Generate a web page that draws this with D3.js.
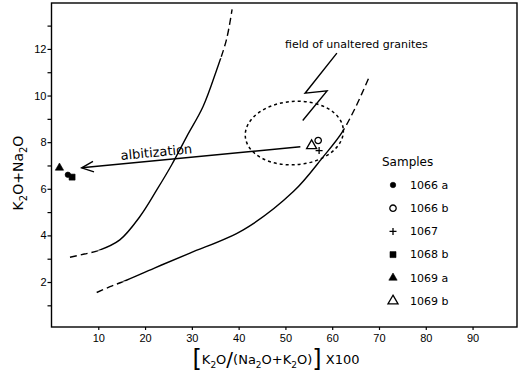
<!DOCTYPE html>
<html>
<head>
<meta charset="utf-8">
<script src="https://cdn.jsdelivr.net/npm/d3@7"></script>
<style>
  body { margin: 0; background: #fff; }
  svg { display: block; font-family: "DejaVu Sans", sans-serif; }
  .axis text { font-size: 11px; fill: #000; }
  .axis line { stroke: #000; stroke-width: 1.2; }
</style>
</head>
<body>
<svg id="chart" width="518" height="373"></svg>
<script>
'use strict';

// tick values
const xTickValues = [10, 20, 30, 40, 50, 60, 70, 80, 90];
const yTickValues = [2, 4, 6, 8, 10, 12];
const yMinorTicks = [1, 3, 5, 7, 9, 11, 13];

// samples (legend order)
const sampleNames = ["1066 a", "1066 b", "1067", "1068 b", "1069 a", "1069 b"];
const sampleX = [3.5, 57.0, 57.2, 4.4, 1.7, 55.6];
const sampleY = [6.6, 8.07, 7.64, 6.5, 6.9, 7.85];

// boundary curves: [x, y]
const leftCurve = [[3.95, 3.06], [7.0, 3.2], [10.0, 3.35], [14.6, 3.81], [18.9, 4.81],
    [22.5, 5.95], [25.7, 7.03], [28.9, 8.24], [32.4, 9.53], [35.3, 11.1], [37.4, 12.4], [38.6, 13.7]];
const leftCurveSolid = [3.35, 11.6];   // y range drawn solid, dashed outside

const rightCurve = [[9.66, 1.55], [12.5, 1.8], [15.3, 2.02], [22.0, 2.6], [29.6, 3.24],
    [41.0, 4.24], [51.7, 5.88], [58.1, 7.38], [62.0, 8.39], [65.0, 9.5], [67.9, 10.8]];
const rightCurveSolid = [2.02, 8.39];

// annotations
const boltPoints = [[61.0, 11.82], [54.2, 10.1], [58.9, 10.2], [53.7, 8.93]];
const arrowFrom = [53.2, 7.8];
const arrowTo = [6.45, 6.9];
const fieldCenter = [51.9, 8.39];
const fieldRadius = [10.5, 1.36];

const svg = d3.select("#chart");
const W = +svg.attr("width");

const xScale = d3.scaleLinear().domain([0, 99.5]).range([51.5, 517]);
const yScale = d3.scaleLinear().domain([0.07, 13.97]).range([327, 3]);

// axes
const xAxis = d3.axisBottom(xScale).tickValues(xTickValues).tickSize(3).tickPadding(4);
const yAxis = d3.axisLeft(yScale).tickValues(yTickValues).tickSize(4).tickPadding(1);
const yMinor = d3.axisLeft(yScale).tickValues(yMinorTicks).tickSize(4).tickFormat("");

svg.append("g").attr("class", "x axis")
    .attr("transform", "translate(0," + yScale.range()[0] + ")")
    .call(xAxis)
    .call(g => g.select(".domain").remove());

svg.append("g").attr("class", "y axis")
    .attr("transform", "translate(" + xScale.range()[0] + ",0)")
    .call(yAxis)
    .call(g => g.select(".domain").remove());

svg.append("g").attr("class", "y axis minor")
    .attr("transform", "translate(" + xScale.range()[0] + ",0)")
    .call(yMinor)
    .call(g => g.select(".domain").remove());

// frame
svg.append("rect")
    .attr("x", xScale.range()[0])
    .attr("y", yScale.range()[1])
    .attr("width", xScale.range()[1] - xScale.range()[0])
    .attr("height", yScale.range()[0] - yScale.range()[1])
    .attr("fill", "none")
    .attr("stroke", "#000")
    .attr("stroke-width", 1.4);

// axis titles
const yTitle = svg.append("text")
    .attr("transform", "translate(23,173) rotate(-90)")
    .attr("text-anchor", "middle")
    .style("font-size", "14px");
yTitle.append("tspan").text("K");
yTitle.append("tspan").attr("dy", 4).style("font-size", "10px").text("2");
yTitle.append("tspan").attr("dy", -4).text("O+Na");
yTitle.append("tspan").attr("dy", 4).style("font-size", "10px").text("2");
yTitle.append("tspan").attr("dy", -4).text("O");

const xTitle = svg.append("text")
    .attr("x", 276)
    .attr("y", 364)
    .attr("text-anchor", "middle")
    .style("font-size", "13px");
xTitle.append("tspan").style("font-size", "24px").attr("dy", 3).text("[");
xTitle.append("tspan").attr("dy", -3).text("K");
xTitle.append("tspan").attr("dy", 4).style("font-size", "9px").text("2");
xTitle.append("tspan").attr("dy", -4).text("O");
xTitle.append("tspan").style("font-size", "20px").attr("dy", 2).text("/");
xTitle.append("tspan").attr("dy", -2).text("(Na");
xTitle.append("tspan").attr("dy", 4).style("font-size", "9px").text("2");
xTitle.append("tspan").attr("dy", -4).text("O+K");
xTitle.append("tspan").attr("dy", 4).style("font-size", "9px").text("2");
xTitle.append("tspan").attr("dy", -4).text("O)");
xTitle.append("tspan").style("font-size", "24px").attr("dy", 3).text("]");
xTitle.append("tspan").attr("dy", -3).text(" X100");

// curves: each drawn whole, then clipped into solid middle and dashed ends
const line = d3.line()
    .curve(d3.curveCatmullRom.alpha(0.5))
    .x(d => xScale(d[0]))
    .y(d => yScale(d[1]));

const defs = svg.append("defs");

function drawCurve(id, pts, solidRange) {
    const yTop = yScale(solidRange[1]), yBot = yScale(solidRange[0]);

    defs.append("clipPath").attr("id", id + "-solid")
        .append("rect").attr("x", 0).attr("y", yTop).attr("width", W).attr("height", yBot - yTop);
    const dashClip = defs.append("clipPath").attr("id", id + "-dash");
    dashClip.append("rect").attr("x", 0).attr("y", 0).attr("width", W).attr("height", yTop);
    dashClip.append("rect").attr("x", 0).attr("y", yBot).attr("width", W).attr("height", 400);

    svg.append("path")
        .attr("d", line(pts))
        .attr("clip-path", "url(#" + id + "-solid)")
        .attr("fill", "none")
        .attr("stroke", "#000")
        .attr("stroke-width", 1.4);

    svg.append("path")
        .attr("d", line(pts))
        .attr("clip-path", "url(#" + id + "-dash)")
        .attr("fill", "none")
        .attr("stroke", "#000")
        .attr("stroke-width", 1.4)
        .attr("stroke-dasharray", "7,4");
}

drawCurve("left", leftCurve, leftCurveSolid);
drawCurve("right", rightCurve, rightCurveSolid);

// field of unaltered granites
const cx = xScale(fieldCenter[0]), cy = yScale(fieldCenter[1]);
svg.append("ellipse")
    .attr("cx", cx)
    .attr("cy", cy)
    .attr("rx", xScale(fieldCenter[0] + fieldRadius[0]) - cx)
    .attr("ry", cy - yScale(fieldCenter[1] + fieldRadius[1]))
    .attr("transform", "rotate(-4 " + cx + " " + cy + ")")
    .attr("fill", "none")
    .attr("stroke", "#000")
    .attr("stroke-width", 1.5)
    .attr("stroke-dasharray", "3,3");

svg.append("path")
    .attr("d", d3.line().x(d => xScale(d[0])).y(d => yScale(d[1]))(boltPoints))
    .attr("fill", "none")
    .attr("stroke", "#000")
    .attr("stroke-width", 1.4);

svg.append("text")
    .attr("x", 285)
    .attr("y", 48)
    .style("font-size", "11px")
    .text("field of unaltered granites");

// albitization arrow
const ax0 = xScale(arrowFrom[0]), ay0 = yScale(arrowFrom[1]);
const ax1 = xScale(arrowTo[0]), ay1 = yScale(arrowTo[1]);
const ang = Math.atan2(ay1 - ay0, ax1 - ax0);
const headLen = 13, headAng = 0.42;
svg.append("line")
    .attr("x1", ax0).attr("y1", ay0)
    .attr("x2", ax1).attr("y2", ay1)
    .attr("stroke", "#000")
    .attr("stroke-width", 1.4);
svg.append("path")
    .attr("d", "M" + (ax1 - headLen * Math.cos(ang - headAng)) + "," + (ay1 - headLen * Math.sin(ang - headAng)) +
        "L" + ax1 + "," + ay1 +
        "L" + (ax1 - headLen * Math.cos(ang + headAng)) + "," + (ay1 - headLen * Math.sin(ang + headAng)))
    .attr("fill", "none")
    .attr("stroke", "#000")
    .attr("stroke-width", 1.4);

svg.append("text")
    .attr("transform", "translate(121,160) rotate(" + (ang * 180 / Math.PI - 180) + ")")
    .style("font-size", "13px")
    .text("albitization");

// sample symbols
function symbolPath(i) {
    const plus = "M-3.5,0H3.5M0,-3.5V3.5";
    switch (i) {
        case 0: return { d: d3.symbol(d3.symbolCircle, 24)(), fill: true };
        case 1: return { d: d3.symbol(d3.symbolCircle, 32)(), fill: false };
        case 2: return { d: plus, fill: false };
        case 3: return { d: d3.symbol(d3.symbolSquare, 36)(), fill: true };
        case 4: return { d: d3.symbol(d3.symbolTriangle, 30)(), fill: true };
        default: return { d: d3.symbol(d3.symbolTriangle, 44)(), fill: false };
    }
}

function drawSymbol(g, i) {
    const s = symbolPath(i);
    g.append("path")
        .attr("d", s.d)
        .attr("fill", s.fill ? "#000" : "none")
        .attr("stroke", "#000")
        .attr("stroke-width", s.fill ? 0.6 : 1.3);
}

sampleNames.forEach((name, i) => {
    const g = svg.append("g")
        .attr("transform", "translate(" + xScale(sampleX[i]) + "," + yScale(sampleY[i]) + ")");
    drawSymbol(g, i);
});

// legend
const legend = svg.append("g").attr("transform", "translate(382,0)");
legend.append("text")
    .attr("x", 0)
    .attr("y", 166)
    .style("font-size", "12px")
    .text("Samples");

const legendY = d3.scalePoint().domain(sampleNames).range([185, 301]);
sampleNames.forEach((name, i) => {
    const g = legend.append("g").attr("transform", "translate(11," + legendY(name) + ")");
    drawSymbol(g, i);
    g.append("text")
        .attr("x", 17)
        .attr("dy", "0.35em")
        .style("font-size", "11px")
        .text(name);
});
</script>
</body>
</html>
